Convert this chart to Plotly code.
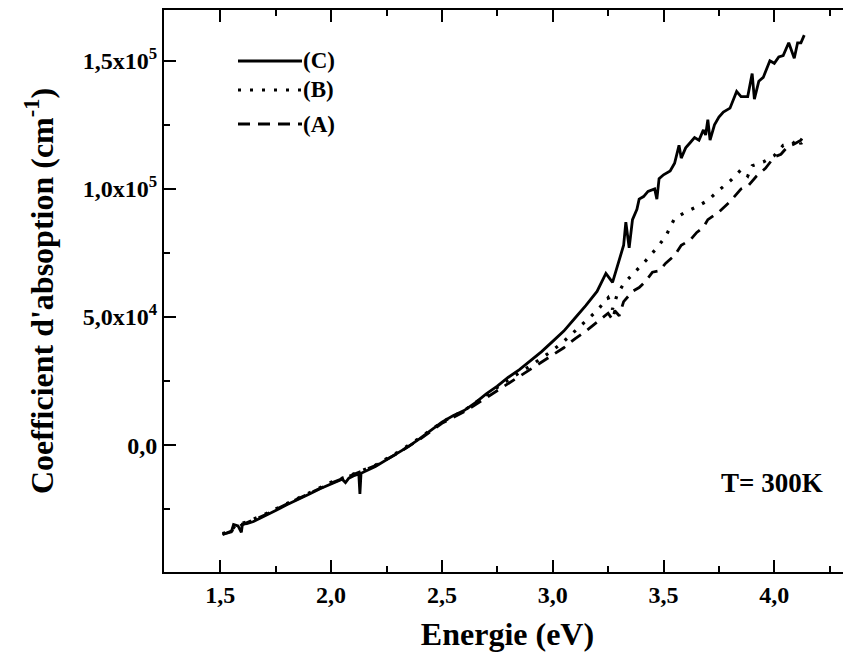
import plotly.graph_objects as go

# ---- data ----
energy_C = [1.51, 1.53, 1.55, 1.56, 1.58, 1.595, 1.60, 1.62, 1.65, 1.70, 1.75, 1.80, 1.85, 1.90, 1.95,
            2.00, 2.05, 2.065, 2.08, 2.10, 2.125, 2.13, 2.135, 2.20, 2.25, 2.30, 2.35, 2.40, 2.45, 2.50,
            2.55, 2.60, 2.65, 2.70, 2.75, 2.80, 2.85, 2.90, 2.95, 3.00, 3.05, 3.10, 3.15, 3.20, 3.24,
            3.27, 3.30, 3.32, 3.33, 3.345, 3.36, 3.38, 3.39, 3.41, 3.43, 3.46, 3.47, 3.48, 3.50, 3.53,
            3.55, 3.57, 3.58, 3.60, 3.62, 3.64, 3.66, 3.68, 3.69, 3.70, 3.71, 3.73, 3.75, 3.77, 3.80,
            3.83, 3.85, 3.88, 3.90, 3.91, 3.93, 3.95, 3.98, 4.00, 4.02, 4.04, 4.065, 4.09, 4.105, 4.12, 4.135]
alpha_C = [-34.5e3, -34.3e3, -33.8e3, -31.0e3, -31.5e3, -34.0e3, -30.8e3, -30.6e3, -29.8e3, -27.5e3,
           -25.5e3, -23.3e3, -21.4e3, -19.2e3, -17.0e3, -15.0e3, -13.3e3, -14.6e3, -12.9e3, -12.0e3,
           -11.2e3, -19.0e3, -11.0e3, -8.3e3, -5.8e3, -3.2e3, -0.5e3, 2.5e3, 5.8e3, 9.0e3,
           11.5e3, 13.5e3, 16.5e3, 20.0e3, 23.0e3, 26.5e3, 29.5e3, 33.0e3, 36.5e3, 40.5e3,
           44.5e3, 49.5e3, 54.5e3, 60.0e3, 67.0e3, 63.5e3, 72.0e3, 78.0e3, 87.0e3, 77.0e3,
           88.0e3, 92.0e3, 96.0e3, 97.0e3, 99.0e3, 100.0e3, 96.0e3, 104.0e3, 105.5e3, 107.0e3,
           110.0e3, 117.0e3, 112.0e3, 116.0e3, 118.0e3, 120.0e3, 119.0e3, 123.0e3, 121.0e3, 127.0e3,
           119.0e3, 125.0e3, 128.0e3, 130.0e3, 131.5e3, 138.0e3, 136.0e3, 136.0e3, 145.0e3, 135.0e3,
           142.0e3, 143.5e3, 150.0e3, 149.0e3, 151.5e3, 152.0e3, 157.0e3, 151.0e3, 157.0e3, 157.0e3, 160.0e3]

energy_B = [1.51, 1.55, 1.57, 1.62, 1.70, 1.80, 1.90, 2.00, 2.10, 2.20, 2.30, 2.40, 2.50, 2.60, 2.70,
            2.80, 2.90, 3.00, 3.05, 3.10, 3.15, 3.20, 3.25, 3.27, 3.29, 3.32, 3.37, 3.42, 3.47, 3.51,
            3.55, 3.60, 3.65, 3.70, 3.75, 3.80, 3.85, 3.88, 3.90, 3.95, 4.00, 4.04, 4.08, 4.11, 4.12, 4.13]
alpha_B = [-34.5e3, -33.5e3, -31.0e3, -30.0e3, -27.0e3, -22.8e3, -18.7e3, -14.5e3, -11.3e3, -7.8e3,
           -2.8e3, 2.8e3, 9.0e3, 13.5e3, 19.5e3, 25.5e3, 31.0e3, 37.0e3, 40.5e3, 44.5e3,
           48.5e3, 52.5e3, 57.5e3, 53.0e3, 58.5e3, 63.0e3, 67.5e3, 72.0e3, 77.0e3, 81.5e3,
           88.5e3, 91.0e3, 93.0e3, 95.5e3, 99.5e3, 103.0e3, 107.5e3, 105.0e3, 109.0e3, 110.5e3,
           113.0e3, 117.0e3, 117.5e3, 119.5e3, 117.5e3, 121.0e3]

energy_A = [1.51, 1.55, 1.60, 1.70, 1.80, 1.90, 2.00, 2.10, 2.20, 2.30, 2.40, 2.50, 2.60, 2.70, 2.80,
            2.90, 3.00, 3.05, 3.10, 3.15, 3.20, 3.25, 3.27, 3.28, 3.30, 3.32, 3.36, 3.39, 3.42, 3.45,
            3.48, 3.51, 3.55, 3.58, 3.62, 3.65, 3.68, 3.70, 3.75, 3.80, 3.85, 3.88, 3.92, 3.96, 4.00,
            4.03, 4.06, 4.09, 4.12, 4.13]
alpha_A = [-35.0e3, -33.5e3, -31.0e3, -27.3e3, -23.0e3, -19.0e3, -14.8e3, -11.5e3, -8.0e3, -3.2e3,
           2.3e3, 8.5e3, 13.0e3, 18.5e3, 24.0e3, 29.5e3, 35.0e3, 38.0e3, 41.5e3, 44.5e3,
           48.0e3, 51.5e3, 49.0e3, 52.5e3, 50.5e3, 56.0e3, 60.0e3, 61.5e3, 64.0e3, 67.5e3,
           68.0e3, 71.0e3, 74.0e3, 78.0e3, 80.0e3, 83.0e3, 85.0e3, 88.0e3, 91.0e3, 95.0e3,
           100.0e3, 101.0e3, 105.0e3, 108.0e3, 112.5e3, 113.5e3, 116.5e3, 117.5e3, 119.0e3, 120.5e3]

y_tick_vals = [0, 5e4, 1e5, 1.5e5]
y_tick_text = ["0,0", "5,0x10<sup>4</sup>", "1,0x10<sup>5</sup>", "1,5x10<sup>5</sup>"]
y_minor_vals = [-2.5e4, 2.5e4, 7.5e4, 1.25e5]
legend_names = ["(C)", "(B)", "(A)"]

FONT = "Liberation Serif"

# The page body adds an 8px margin, so the figure is 16px smaller than the window.
W, H = 843, 654
L, T, B = 156, 2, 90
PW, PH = W - L, H - T - B


def px_x(p):  # window pixel -> paper x
    return (p - 8 - L) / PW


def px_y(p):  # window pixel -> paper y
    return (H - B - (p - 8)) / PH


fig = go.Figure()
fig.add_trace(go.Scatter(x=energy_C, y=alpha_C, mode="lines", name=legend_names[0],
                         line=dict(color="black", width=2.8), showlegend=False))
fig.add_trace(go.Scatter(x=energy_B, y=alpha_B, mode="lines", name=legend_names[1],
                         line=dict(color="black", width=3.2, dash="3px,9px"), showlegend=False))
fig.add_trace(go.Scatter(x=energy_A, y=alpha_A, mode="lines", name=legend_names[2],
                         line=dict(color="black", width=2.8, dash="12px,8px"), showlegend=False))

# manual legend (line sample + label)
leg_y = [61, 90, 124]
leg_dash = ["solid", "3px,9px", "12px,8px"]
for name, yy, dsh in zip(legend_names, leg_y, leg_dash):
    fig.add_shape(type="line", xref="paper", yref="paper", x0=px_x(238), x1=px_x(302),
                  y0=px_y(yy), y1=px_y(yy),
                  line=dict(color="black", width=3.2 if dsh == "3px,9px" else 2.8, dash=dsh))
    fig.add_annotation(xref="paper", yref="paper", x=px_x(301), y=px_y(yy), text=name, showarrow=False,
                       xanchor="left", yanchor="middle", xshift=0,
                       font=dict(family=FONT, size=23, color="black", weight="bold"))

fig.add_annotation(xref="paper", yref="paper", x=px_x(825), y=px_y(483), text="T= 300K", showarrow=False,
                   xanchor="right", yanchor="middle",
                   font=dict(family=FONT, size=27, color="black", weight="bold"))

fig.update_layout(
    width=W, height=H,
    margin=dict(l=L, r=0, t=T, b=B, autoexpand=False),
    paper_bgcolor="white", plot_bgcolor="white",
    separators=",.",
    font=dict(family=FONT, size=24, color="black", weight="bold"),
    showlegend=False,
)
fig.update_xaxes(
    range=[1.246, 4.346], showgrid=False, zeroline=False,
    showline=True, linecolor="black", linewidth=2, mirror="ticks",
    tickmode="linear", tick0=1.5, dtick=0.5, tickformat=".1f",
    ticks="inside", ticklen=12, tickwidth=2, tickcolor="black",
    minor=dict(ticks="inside", ticklen=6, tickwidth=2, tickcolor="black", dtick=0.25, tick0=1.5, showgrid=False),
    tickfont=dict(family=FONT, size=24, weight="bold"),
    title=dict(text="Energie (eV)", font=dict(family=FONT, size=32, weight="bold"), standoff=16),
)
fig.update_yaxes(
    range=[-49500, 169800], showgrid=False, zeroline=False,
    showline=True, linecolor="black", linewidth=2, mirror=False,
    tickmode="array", tickvals=y_tick_vals, ticktext=y_tick_text,
    ticks="inside", ticklen=12, tickwidth=2, tickcolor="black",
    minor=dict(ticks="inside", ticklen=6, tickwidth=2, tickcolor="black", tickvals=y_minor_vals, showgrid=False),
    tickfont=dict(family=FONT, size=24, weight="bold"),
    title=dict(text="Coefficient d'absoption (cm<sup>-1</sup>)", font=dict(family=FONT, size=32, weight="bold"), standoff=20),
)

fig.write_html("out.html")
